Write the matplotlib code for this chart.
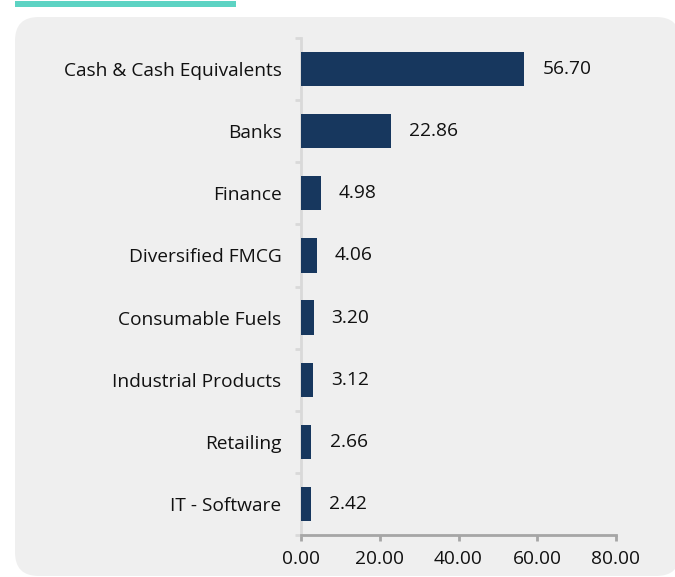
import matplotlib
matplotlib.use("Agg")
import matplotlib.pyplot as plt
from matplotlib.patches import FancyBboxPatch, Rectangle
import numpy as np

categories = ["Cash & Cash Equivalents", "Banks", "Finance", "Diversified FMCG",
              "Consumable Fuels", "Industrial Products", "Retailing", "IT - Software"]
values = [56.70, 22.86, 4.98, 4.06, 3.20, 3.12, 2.66, 2.42]
xticks = [0, 20, 40, 60, 80]

plt.rcParams['font.family'] = ['Open Sans', 'DejaVu Sans']
FS = 13.8
TXT = "#111111"

W, H = 675, 577
fig = plt.figure(figsize=(W / 100, H / 100), dpi=100)
fig.patch.set_facecolor("white")

# background rounded panel
panel = FancyBboxPatch((15 / W, 1 / H), 665 / W, 559 / H,
                       boxstyle="round,pad=0,rounding_size=0.035",
                       transform=fig.transFigure, facecolor="#efefef",
                       edgecolor="none", mutation_aspect=W / H, zorder=-2)
fig.patches.append(panel)
# teal bar on top
fig.patches.append(Rectangle((15 / W, (H - 7) / H), 221 / W, 6 / H,
                             transform=fig.transFigure, facecolor="#5dd3c3",
                             edgecolor="none", zorder=-1))

ax = fig.add_axes([301 / W, (H - 535) / H, (616 - 301) / W, (535 - 38) / H])
ax.set_facecolor("none")
ax.set_zorder(2)

y = np.arange(len(categories))
ax.barh(y, values, height=0.55, color="#17375e", zorder=3)
ax.set_ylim(len(categories) - 0.5, -0.5)
ax.set_xlim(0, 80)

ax.set_yticks(y)
ax.set_yticklabels(categories, fontsize=FS, color=TXT)
ax.set_yticks(np.arange(-0.5, len(categories), 1), minor=True)
ax.tick_params(axis="y", which="major", length=0, pad=14)
ax.tick_params(axis="y", which="minor", length=4, width=2, color="#d9d9d9")

ax.set_xticks(xticks)
ax.set_xticklabels([f"{v:.2f}" for v in xticks], fontsize=FS, color=TXT)
ax.tick_params(axis="x", length=4, width=2, color="#a6a6a6", pad=7)

for s in ["top", "right"]:
    ax.spines[s].set_visible(False)
ax.spines["left"].set_color("#d9d9d9")
ax.spines["left"].set_linewidth(2)
ax.spines["bottom"].set_color("#a6a6a6")
ax.spines["bottom"].set_linewidth(2)

for yi, v in zip(y, values):
    ax.annotate(f"{v:.2f}", (v, yi), xytext=(13, 0), textcoords="offset points",
                va="center", ha="left", fontsize=FS, color=TXT)

fig.savefig("out.png", dpi=100)
